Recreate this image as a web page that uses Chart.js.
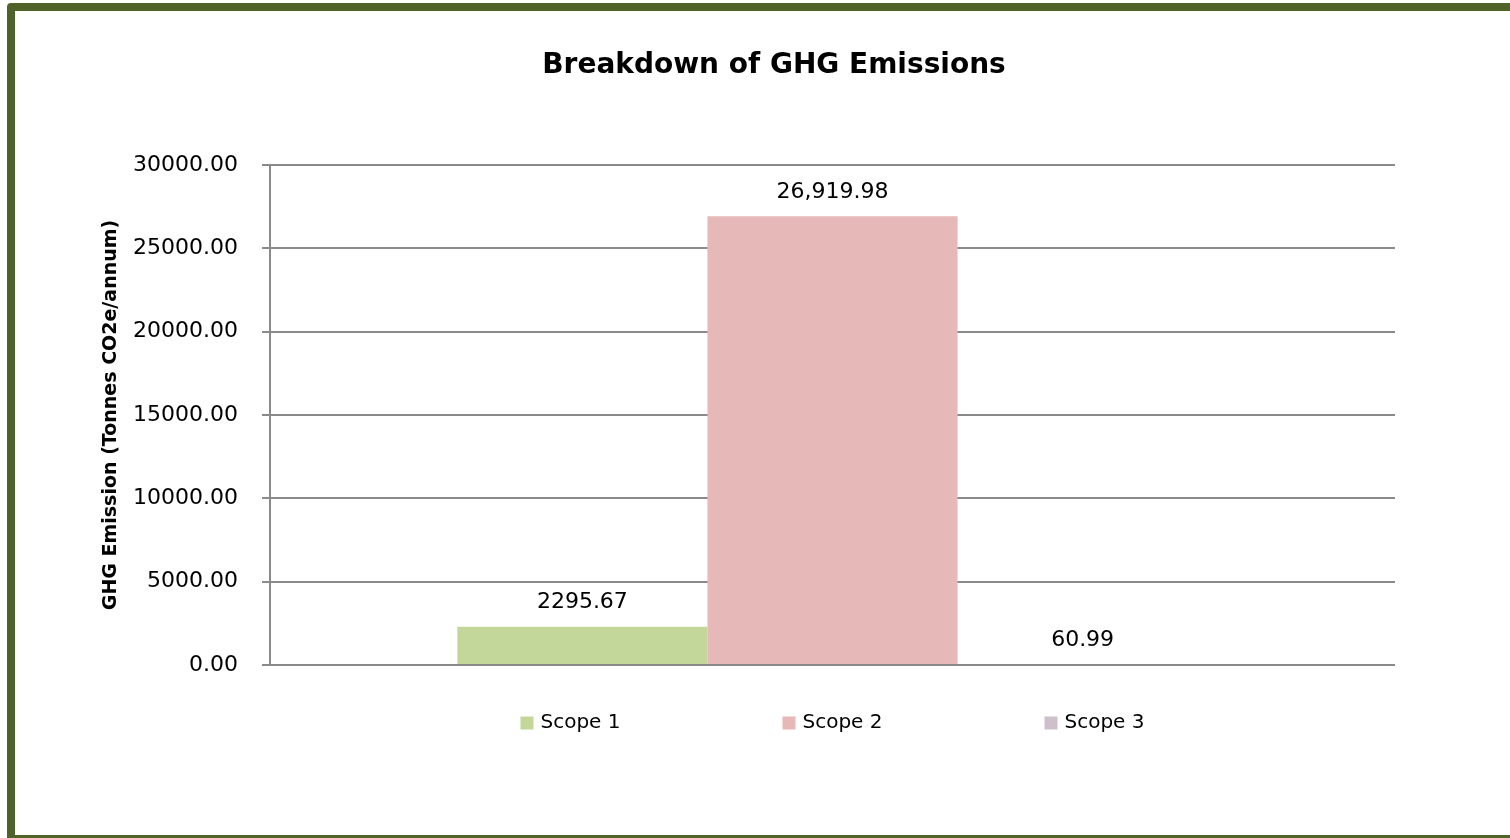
<!DOCTYPE html>
<html>
<head>
<meta charset="utf-8">
<script src="https://cdn.jsdelivr.net/npm/chart.js@4.4.1/dist/chart.umd.min.js"></script>
<style>
  html, body { margin: 0; padding: 0; background: #fff; overflow: hidden; }
  #wrap { position: relative; width: 1510px; height: 838px; }
  #frame {
    position: absolute; left: 7px; top: 3px; width: 1520px; height: 840px;
    box-sizing: border-box; border: 8px solid #4f6228; border-radius: 4px;
    pointer-events: none;
  }
  canvas { position: absolute; left: 0; top: 0; }
</style>
</head>
<body>
<div id="wrap">
  <canvas id="chart" width="1510" height="838"></canvas>
  <div id="frame"></div>
</div>
<script>
// chart data
const chartTitle = 'Breakdown of GHG Emissions';
const categories = [''];
const seriesNames = ['Scope 1', 'Scope 2', 'Scope 3'];
const scope1 = [2295.67];
const scope2 = [26919.98];
const scope3 = [60.99];
const valueLabels = ['2295.67', '26,919.98', '60.99'];
const yMin = 0;
const yMax = 30000;
const yStep = 5000;

const colors = ['#c4d79b', '#e6b8b7', '#cdc0cb'];
const gridColor = '#8a8a8a';
const FONT = '"DejaVu Sans", sans-serif';

// title sits a little right of the canvas centre, as in the original sheet
const titlePlugin = {
  id: 'sheetTitle',
  afterDraw(chart) {
    const ctx = chart.ctx;
    ctx.save();
    ctx.font = 'bold 28px ' + FONT;
    ctx.fillStyle = '#000';
    ctx.textAlign = 'center';
    ctx.textBaseline = 'middle';
    ctx.fillText(chartTitle, chart.width / 2 + 19, 66);
    ctx.restore();
  }
};

// data labels above each bar
const valueLabelPlugin = {
  id: 'valueLabels',
  afterDatasetsDraw(chart) {
    const ctx = chart.ctx;
    ctx.save();
    ctx.font = '22px ' + FONT;
    ctx.fillStyle = '#000';
    ctx.textAlign = 'center';
    ctx.textBaseline = 'middle';
    chart.data.datasets.forEach((ds, i) => {
      const bar = chart.getDatasetMeta(i).data[0];
      ctx.fillText(valueLabels[i], bar.x, bar.y - 24);
    });
    ctx.restore();
  }
};

// legend with wide evenly spaced slots (like the spreadsheet one)
const legendPlugin = {
  id: 'bottomLegend',
  afterDraw(chart) {
    const { ctx, chartArea } = chart;
    const slot = 262, box = 13, gap = 7;
    const sets = chart.data.datasets;
    ctx.save();
    ctx.font = '20px ' + FONT;
    ctx.textBaseline = 'middle';
    ctx.textAlign = 'left';
    const lastW = box + gap + ctx.measureText(sets[sets.length - 1].label).width;
    const total = slot * (sets.length - 1) + lastW;
    let x = (chartArea.left + chartArea.right) / 2 - total / 2;
    const y = chartArea.bottom + 58;
    sets.forEach(ds => {
      ctx.fillStyle = ds.backgroundColor;
      ctx.fillRect(x, y - box / 2, box, box);
      ctx.fillStyle = '#000';
      ctx.fillText(ds.label, x + box + gap, y);
      x += slot;
    });
    ctx.restore();
  }
};

new Chart(document.getElementById('chart'), {
  type: 'bar',
  data: {
    labels: categories,
    datasets: [
      { label: seriesNames[0], data: scope1, backgroundColor: colors[0] },
      { label: seriesNames[1], data: scope2, backgroundColor: colors[1] },
      { label: seriesNames[2], data: scope3, backgroundColor: colors[2] }
    ]
  },
  options: {
    responsive: false,
    animation: false,
    devicePixelRatio: 1,
    layout: { padding: { left: 92, right: 115, top: 165, bottom: 173 } },
    datasets: { bar: { categoryPercentage: 0.667, barPercentage: 1 } },
    plugins: {
      legend: { display: false },
      tooltip: { enabled: false },
      title: { display: false }
    },
    scales: {
      x: { display: false },
      y: {
        min: yMin,
        max: yMax,
        afterFit(scale) { scale.width = 178; },
        ticks: {
          stepSize: yStep,
          color: '#000',
          padding: 24,
          font: { family: FONT, size: 22 },
          callback: v => v.toFixed(2)
        },
        grid: { color: gridColor, lineWidth: 2, tickLength: 8 },
        border: { display: true, color: gridColor, width: 2 },
        title: {
          display: true,
          text: 'GHG Emission (Tonnes CO2e/annum)',
          color: '#000',
          font: { family: FONT, size: 19, weight: 'bold' },
          padding: { top: 8, bottom: 4 }
        }
      }
    }
  },
  plugins: [titlePlugin, valueLabelPlugin, legendPlugin]
});
</script>
</body>
</html>
